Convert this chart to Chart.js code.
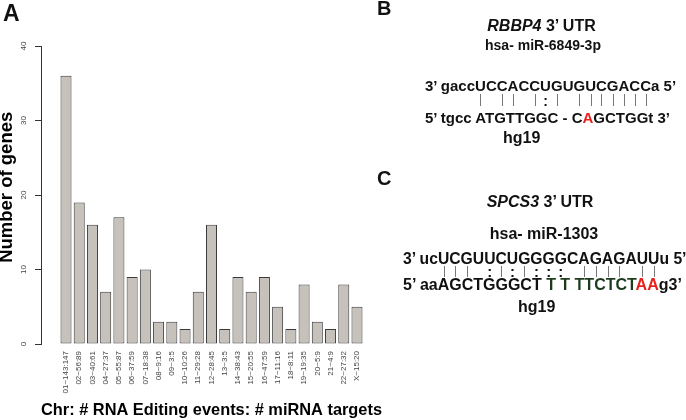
<!DOCTYPE html>
<html><head><meta charset="utf-8">
<script src="https://cdn.jsdelivr.net/npm/chart.js@4/dist/chart.umd.min.js"></script>
<style>
html,body{margin:0;padding:0;background:#fff;}
#wrap{position:relative;width:686px;height:420px;overflow:hidden;font-family:"Liberation Sans",Arial,Helvetica,sans-serif;}
#c{position:absolute;left:0;top:0;}
.t{position:absolute;white-space:pre;line-height:1;font-weight:bold;color:#111;}
</style></head>
<body><div id="wrap"><canvas id="c" width="686" height="420"></canvas></div>
<script>
// ---- data ----
const categories = ['01~143:147','02~56:89','03~40:61','04~27:37','05~55:87','06~37:59','07~18:38','08~9:16','09~3:5','10~10:26','11~29:28','12~28:45','13~3:5','14~38:43','15~20:55','16~47:59','17~11:16','18~8:11','19~19:35','20~5:9','21~4:9','22~27:32','X~15:20'];
const geneCounts = [36,19,16,7,17,9,10,3,3,2,7,16,2,9,7,9,5,2,8,3,2,8,5];
const yTicks = [0,10,20,30,40];
const xTitle = 'Chr: # RNA Editing events: # miRNA targets';
const yTitle = 'Number of genes';

const FAM = '"Liberation Sans", Arial, Helvetica, sans-serif';

// rotated y tick labels, placed from the y scale's own tick values
const yTickLabels = {
  id: 'yTickLabels',
  afterDraw(chart) {
    const s = chart.scales.y, ctx = chart.ctx;
    ctx.save();
    ctx.font = '8px ' + FAM;
    ctx.fillStyle = '#444';
    ctx.textAlign = 'center';
    ctx.textBaseline = 'middle';
    s.ticks.forEach(t => {
      ctx.save();
      ctx.translate(s.right - 17, s.getPixelForValue(t.value));
      ctx.rotate(-Math.PI / 2);
      ctx.fillText(String(t.value), 0, 0);
      ctx.restore();
    });
    ctx.restore();
  }
};

new Chart(document.getElementById('c'), {
  type: 'bar',
  data: {
    datasets: [{
      data: geneCounts.map((v, i) => ({ x: i, y: v })),
      backgroundColor: '#c6c1bb',
      borderColor: '#3a3a3a',
      borderWidth: 1,
      borderSkipped: false,
      barPercentage: 0.8333,
      categoryPercentage: 1
    }]
  },
  plugins: [yTickLabels],
  options: {
    responsive: false,
    animation: false,
    layout: { padding: { left: 0, top: 46, right: 304, bottom: 0 } },
    plugins: { legend: { display: false }, tooltip: { enabled: false } },
    scales: {
      x: {
        type: 'linear',
        min: -1.33, max: 23.33,
        grid: { display: false, drawTicks: false },
        border: { display: false },
        afterBuildTicks: axis => { axis.ticks = categories.map((_, i) => ({ value: i })); },
        afterFit: s => { s.height = 76; },
        ticks: {
          autoSkip: false, minRotation: 90, maxRotation: 90, padding: 7,
          font: { size: 8, family: FAM }, color: '#444',
          callback: v => categories[v]
        },
        title: {
          display: true, text: xTitle, color: '#000',
          font: { size: 16.5, weight: 'bold', family: FAM, lineHeight: 1.2 },
          padding: { top: 0, bottom: 0 }
        }
      },
      y: {
        min: 0, max: 40,
        afterBuildTicks: axis => { axis.ticks = yTicks.map(v => ({ value: v })); },
        afterFit: s => { s.width = 41; },
        grid: { drawOnChartArea: false, drawTicks: true, tickLength: 6, color: '#333', lineWidth: 1 },
        border: { display: true, color: '#333', width: 1 },
        ticks: { display: false },
        title: {
          display: true, text: '   ' + yTitle, color: '#000',
          font: { size: 18.5, weight: 'bold', family: FAM, lineHeight: 0.7 },
          padding: { top: 0, bottom: 0 }
        }
      }
    }
  }
});

// ---- text panels ----
const wrap = document.getElementById('wrap');
function place(html, x, baseline, size, opts) {
  opts = opts || {};
  const d = document.createElement('div');
  d.className = 't';
  d.style.fontSize = size + 'px';
  d.style.top = (baseline - 0.8465 * size) + 'px';
  d.style.left = x + 'px';
  if (opts.center) d.style.transform = 'translateX(-50%)';
  d.innerHTML = html;
  wrap.appendChild(d);
  return d;
}
function seq(prefix, core, suffix, x, baseline, size) {
  const d = place('', x, baseline, size);
  d.appendChild(document.createTextNode(prefix));
  const spans = [];
  for (const ch of core) { const s = document.createElement('span'); s.textContent = ch; d.appendChild(s); spans.push(s); }
  d.appendChild(document.createTextNode(suffix));
  return spans;
}
function pairs(spans, pattern, y1, y2, colonSize) {
  const wr = wrap.getBoundingClientRect();
  pattern.split('').forEach((p, i) => {
    if (p === ' ') return;
    const r = spans[i].getBoundingClientRect();
    const cx = r.left + r.width / 2 - wr.left;
    if (p === '|') {
      const l = document.createElement('div');
      l.style.cssText = 'position:absolute;left:' + Math.round(cx) + 'px;top:' + y1 + 'px;width:1px;height:' + (y2 - y1) + 'px;background:#777';
      wrap.appendChild(l);
    } else {
      place(':', cx, y2, colonSize, { center: true });
    }
  });
}
const RED = '#e8211d', GRN = '#1d3b1d';

place('A', 3, 21.7, 23);
place('B', 377, 14.5, 20);
place('C', 377, 185, 20);

// Panel B
place('<i>RBBP4</i> 3’ UTR', 541.5, 32, 16, { center: true });
place('hsa- miR-6849-3p', 543, 50, 14, { center: true });
const bCore = seq('3’ gacc', 'UCCACCUGUGUCGACC', 'a 5’', 425, 90.5, 15);
pairs(bCore, '| || |:| |||||||', 94, 106, 14);
place('5’ tgcc ATGTTGGC - C<span style="color:' + RED + '">A</span>GCTGGt 3’', 425, 122.5, 15);
place('hg19', 503, 143.5, 16);

// Panel C
place('<i>SPCS3</i> 3’ UTR', 540, 208, 16, { center: true });
place('hsa- miR-1303', 544, 239.5, 16, { center: true });
const cCore = seq('3’ uc', 'UCGUUCUGGGGCAGAGAUU', 'u 5’', 403, 264, 15.7);
pairs(cCore, '||| :|:|::: |||| ||', 266, 277, 15);
place('5’ aaAGCTGGGCT<span style="color:' + GRN + '"> T T TTCTCT</span><span style="color:' + RED + '">AA</span>g3’', 403, 291, 16);
place('hg19', 518, 313, 16);
</script>
</body></html>
